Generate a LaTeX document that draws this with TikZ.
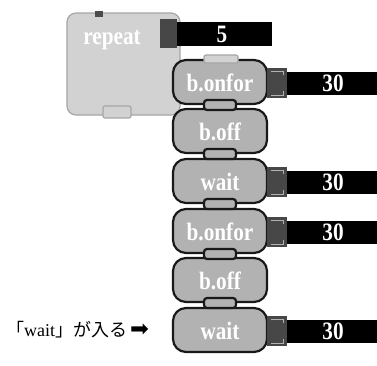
\documentclass[tikz,border=0pt]{standalone}
\usepackage{fontspec}
\setmainfont{Liberation Serif}
\newfontfamily\cjk{Noto Sans CJK JP}
\newfontfamily\simbolo{DejaVu Sans}
\newcommand\estreito[1]{\scalebox{0.85}[1]{#1}}

\tikzset{
  bloco/.style={fill=gray!60, draw=black!90, line width=2.2pt, rounded corners=13pt},
  laco/.style={fill=gray!35, draw=gray!70, line width=1.2pt, rounded corners=9pt},
  encaixe/.style={fill=black!72},
  gancho/.style={draw=gray!60, line width=0.8pt},
  valor/.style={fill=black},
  rotulo/.style={text=white, font=\fontsize{25}{25}\selectfont\bfseries},
  nota/.style={font=\fontsize{18}{18}\selectfont, anchor=west, inner sep=0pt},
}

\begin{document}
\begin{tikzpicture}[x=1pt,y=-1pt]
    \useasboundingbox (0,0) rectangle (377,365);

    % dimensões dos blocos
    \def\bx{220}        % centro dos blocos
    \def\bw{47}         % meia largura
    \def\bh{22}         % meia altura

    % bloco repeat
    \draw[laco] (67,13) rectangle (180,115);
    \draw[laco, rounded corners=2pt] (103,106) rectangle (131,118);
    \fill[black!70] (95,11) rectangle (103,17);
    \node[rotulo, text=white] (rep) at (112,40) {\estreito{repeat}};

    % valor 5
    \fill[encaixe] (160,19) rectangle (177,48);
    \fill[valor] (177,22) rectangle (272,46);
    \node[rotulo] (n5) at (222,34) {\estreito{5}};

    % pilha de blocos
    \foreach \y/\txt/\nm in {82/b.onfor/on1, 131/b.off/off1, 181/wait/w1,
                             231/b.onfor/on2, 280/b.off/off2, 330/wait/w2}{
        \draw[bloco] (\bx-\bw,\y-\bh) rectangle (\bx+\bw,\y+\bh);
        \node[rotulo] (\nm) at (\bx,\y+1) {\estreito{\txt}};
    }

    % encaixes entre blocos
    \foreach \y in {82,131,181,231,280}{
        \draw[bloco, rounded corners=3pt] (\bx-16,\y+\bh-4) rectangle (\bx+16,\y+\bh+6);
    }
    \draw[laco, rounded corners=2pt] (\bx-16,55) rectangle (\bx+18,63);

    % valores 30
    \foreach \y/\nm in {82/v1, 181/v2, 231/v3, 330/v4}{
        \fill[encaixe] (267,\y-14) rectangle (287,\y+16);
        \draw[gancho] (271,\y-11) -- (283,\y-11) -- (283,\y-7);
        \draw[gancho] (271,\y+13) -- (283,\y+13) -- (283,\y+9);
        \fill[valor] (287,\y-10) rectangle (377,\y+13);
        \node[rotulo] (\nm) at (333,\y+1) {\estreito{30}};
    }

    % indicação
    \node[nota] (lbl) at (6,330) {{\cjk 「}wait{\cjk 」が入る}\,{\simbolo\scalebox{1.25}{➡}}};

\end{tikzpicture}
\end{document}
